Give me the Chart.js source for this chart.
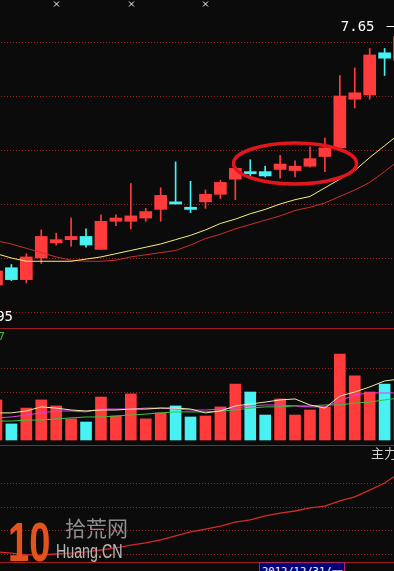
<!DOCTYPE html>
<html>
<head>
<meta charset="utf-8">
<script src="https://cdn.jsdelivr.net/npm/chart.js@4.4.1/dist/chart.umd.min.js"></script>
<style>
html, body { margin: 0; padding: 0; background: #0b0b0b; width: 394px; height: 571px; overflow: hidden; }
canvas { position: absolute; left: -11px; }
#main { top: 0; }
#vol { top: 328px; }
#ind { top: 445px; }
.t { position: absolute; white-space: nowrap; }
#zl { left: 371px; top: 446px; font: 13px "Noto Sans CJK SC"; line-height: 13px; color: #cfcfcf; }
#vl { left: -45px; width: 50px; text-align: right; top: 331px; font: 11px "DejaVu Sans"; line-height: 11px; color: #3ac03a; }
#logo { left: 8px; top: 514px; font: bold 56px "Liberation Sans"; line-height: 56px; color: #e2541c; transform: scaleX(0.68); transform-origin: left top; }
#cn { left: 65px; top: 517px; font: 21px "Noto Sans CJK SC"; line-height: 21px; color: #8e8e8e; }
#en { left: 56px; top: 542px; font: 19.5px "Liberation Sans"; line-height: 19.5px; color: #b4b4b4; transform: scaleX(0.73); transform-origin: left top; text-shadow: 0 0 1px #333; }
#date { left: 259px; top: 562px; width: 82px; height: 12px; padding: 2px 0 0 2px; background: #000078; border: 1px solid #b0206a; color: #fff; font: 10.5px "DejaVu Sans Mono"; line-height: 12px; }
</style>
</head>
<body>
<canvas id="main" width="418" height="328"></canvas>
<canvas id="vol" width="418" height="117"></canvas>
<canvas id="ind" width="418" height="118"></canvas>
<div class="t" id="zl">主力</div>
<div class="t" id="vl">7</div>
<div class="t" id="logo">10</div>
<div class="t" id="cn">拾荒网</div>
<div class="t" id="en">Huang.CN</div>
<div class="t" id="date"></div>
<script>
// trading days shown
const dates = ['2012-12-03','2012-12-04','2012-12-05','2012-12-06','2012-12-07','2012-12-10','2012-12-11',
  '2012-12-12','2012-12-13','2012-12-14','2012-12-17','2012-12-18','2012-12-19','2012-12-20','2012-12-21',
  '2012-12-24','2012-12-25','2012-12-26','2012-12-27','2012-12-28','2012-12-31','2013-01-04','2013-01-07',
  '2013-01-08','2013-01-09','2013-01-10','2013-01-11','2013-01-14'];

const open  = [5.25,5.41,5.30,5.50,5.64,5.67,5.70,5.58,5.84,5.84,5.87,5.95,6.02,5.97,6.02,6.09,6.23,6.30,6.30,6.32,6.31,6.35,6.44,6.52,6.97,7.01,7.40,7.33];
const close = [5.38,5.30,5.51,5.70,5.67,5.70,5.62,5.84,5.87,5.89,5.93,6.08,6.00,5.95,6.09,6.20,6.33,6.28,6.26,6.37,6.35,6.42,6.52,7.00,7.03,7.38,7.35,7.55];
const high  = [5.41,5.44,5.54,5.76,5.73,5.87,5.77,5.90,5.90,6.19,5.96,6.15,6.39,6.21,6.13,6.22,6.35,6.41,6.35,6.45,6.40,6.53,6.61,7.19,7.26,7.44,7.44,7.65];
const low   = [5.22,5.29,5.27,5.45,5.62,5.61,5.60,5.58,5.80,5.77,5.84,5.84,6.00,5.92,5.96,6.05,6.04,6.25,6.25,6.24,6.25,6.34,6.30,6.52,6.89,6.97,7.19,7.31];

// price moving averages
const maFast = [5.54,5.50,5.47,5.47,5.47,5.47,5.49,5.51,5.54,5.57,5.60,5.63,5.67,5.71,5.76,5.82,5.86,5.91,5.95,6.00,6.04,6.07,6.15,6.23,6.31,6.43,6.54,6.65];
const maSlow = [5.66,5.63,5.59,5.55,5.51,5.48,5.47,5.47,5.48,5.51,5.53,5.55,5.57,5.62,5.68,5.72,5.77,5.81,5.85,5.89,5.94,5.97,6.01,6.07,6.13,6.20,6.30,6.41];

// volume and its averages
const volume = [16700,6700,13300,16700,14200,8800,7500,17900,10000,19200,8800,11300,14200,9600,10000,13800,23300,20000,10400,17100,10400,12500,13800,35800,26700,20000,23300,18800];
const volMa1 = [11300,11300,12100,13800,13300,12500,12100,12500,12500,12900,12900,13300,13300,12900,11300,12100,14200,15000,15800,16700,17100,14600,13300,18300,20000,22100,24600,25400];
const volMa2 = [9200,9600,10400,11300,12100,12100,11700,12900,12900,12900,13300,13300,12900,12500,12500,12900,13300,14200,14600,14600,14200,13800,13800,16300,18800,19600,19600,19600];
const volMa3 = [7900,7900,8300,8300,8800,9200,9600,9600,10000,10400,10800,11300,11700,11700,11700,12100,12500,13300,13800,13800,14200,14200,14600,14600,15400,15800,16700,17500];

// lower indicator (主力)
const mainForce = [0.9,0.4,-0.4,-0.4,0,0.4,0.9,1.7,2.6,3.8,4.7,6.0,7.7,9.4,10.6,11.9,13.6,14.5,16.2,17.4,18.3,19.6,20.4,22.6,24.3,27.2,30.2,34.5];

const priceGrid = [7.5, 7.0, 6.5, 6.0, 5.5, 5.0];
const volGrid = [20000, 30000];
const indGrid = [0, 10, 20, 30];
const infoMarks = [4, 9, 14];
const lowPrice = 4.95;
const cursorIdx = 20;

const UP = '#ff3b3b', DOWN = '#48f2f2';
const GRID = '#9a2424', SEP = '#9b1f1f';

const isUp = i => close[i] >= open[i];
const candleColor = ctx => isUp(ctx.dataIndex) ? UP : DOWN;

function gridPlugin(values, solid) {
    return {
        id: 'grid',
        beforeDatasetsDraw(chart) {
            const { ctx, chartArea: a, scales: { y } } = chart;
            ctx.save();
            ctx.lineWidth = 1;
            ctx.strokeStyle = GRID;
            ctx.setLineDash([1, 2]);
            values.forEach(v => {
                const py = Math.round(y.getPixelForValue(v)) + 0.5;
                ctx.beginPath(); ctx.moveTo(a.left, py); ctx.lineTo(a.right, py); ctx.stroke();
            });
            ctx.setLineDash([]);
            ctx.strokeStyle = SEP;
            solid.forEach(py => {
                ctx.beginPath(); ctx.moveTo(a.left, py); ctx.lineTo(a.right, py); ctx.stroke();
            });
            ctx.restore();
        }
    };
}

const mainExtras = {
    id: 'mainExtras',
    afterDatasetsDraw(chart) {
        const { ctx, scales: { x, y } } = chart;
        const step = x.getPixelForValue(1) - x.getPixelForValue(0);
        ctx.save();

        // circled consolidation
        ctx.strokeStyle = '#e3161b';
        ctx.lineWidth = 3.5;
        ctx.beginPath();
        ctx.ellipse(x.getPixelForValue(20), y.getPixelForValue(6.375), 4.12 * step,
            y.getPixelForValue(6.185) - y.getPixelForValue(6.375), 0, 0, Math.PI * 2);
        ctx.stroke();

        // info markers on top
        ctx.strokeStyle = '#ffffff';
        ctx.lineWidth = 1;
        infoMarks.forEach(i => {
            const px = Math.round(x.getPixelForValue(i)) + 0.5;
            ctx.beginPath();
            ctx.moveTo(px - 2.5, 1.5); ctx.lineTo(px + 2.5, 6.5);
            ctx.moveTo(px + 2.5, 1.5); ctx.lineTo(px - 2.5, 6.5);
            ctx.stroke();
        });

        // high label
        let hi = 0;
        high.forEach((h, i) => { if (h > high[hi]) hi = i; });
        const hx = x.getPixelForValue(hi), hy = Math.round(y.getPixelForValue(high[hi])) + 0.5;
        ctx.beginPath(); ctx.moveTo(hx - 13, hy); ctx.lineTo(hx, hy); ctx.stroke();
        ctx.fillStyle = '#ffffff';
        ctx.font = '14px "DejaVu Sans Mono"';
        ctx.textAlign = 'right';
        ctx.textBaseline = 'middle';
        ctx.fillText(high[hi].toFixed(2), hx - 25, hy + 1);

        // low label (low bar is off to the left)
        ctx.fillText(lowPrice.toFixed(2), 24, y.getPixelForValue(lowPrice));
        ctx.restore();
    }
};

const common = {
    responsive: false,
    animation: false,
    devicePixelRatio: 1,
    layout: { padding: 0 },
    plugins: { legend: { display: false }, tooltip: { enabled: false } }
};

const line = (data, color, width) => ({
    type: 'line', data, borderColor: color, borderWidth: width || 1,
    pointRadius: 0, tension: 0, order: 0
});

new Chart(document.getElementById('main'), {
    type: 'bar',
    data: {
        labels: dates,
        datasets: [
            line(maFast, '#f4f27a'),
            line(maSlow, '#cf2e2e'),
            { data: open.map((o, i) => [o, close[i]]), backgroundColor: candleColor, barThickness: 12, grouped: false, order: 1 },
            { data: low.map((l, i) => [l, high[i]]), backgroundColor: candleColor, barThickness: 1, grouped: false, order: 2 }
        ]
    },
    options: { ...common, scales: { x: { display: false, offset: true }, y: { display: false, min: 4.852, max: 7.889 } } },
    plugins: [gridPlugin(priceGrid, []), mainExtras]
});

new Chart(document.getElementById('vol'), {
    type: 'bar',
    data: {
        labels: dates,
        datasets: [
            line(volMa1, '#f2eca8'),
            line(volMa2, '#e23ee2'),
            line(volMa3, '#3cc43c'),
            { data: volume, backgroundColor: candleColor, barThickness: 11, order: 1 }
        ]
    },
    options: { ...common, scales: { x: { display: false, offset: true }, y: { display: false, min: -2083, max: 46667 } } },
    plugins: [gridPlugin(volGrid, [0.5])]
});

new Chart(document.getElementById('ind'), {
    type: 'line',
    data: {
        labels: dates,
        datasets: [line(mainForce, '#d42a2a', 1.3)]
    },
    options: { ...common, scales: { x: { display: false, offset: true }, y: { display: false, min: -3.83, max: 46.38 } } },
    plugins: [gridPlugin(indGrid, [0.5, 117.5])]
});

const week = ['日', '一', '二', '三', '四', '五', '六'];
const d = new Date(dates[cursorIdx] + 'T00:00:00');
document.getElementById('date').textContent = dates[cursorIdx].replace(/-/g, '/') + '/' + week[d.getDay()];
</script>
</body>
</html>
